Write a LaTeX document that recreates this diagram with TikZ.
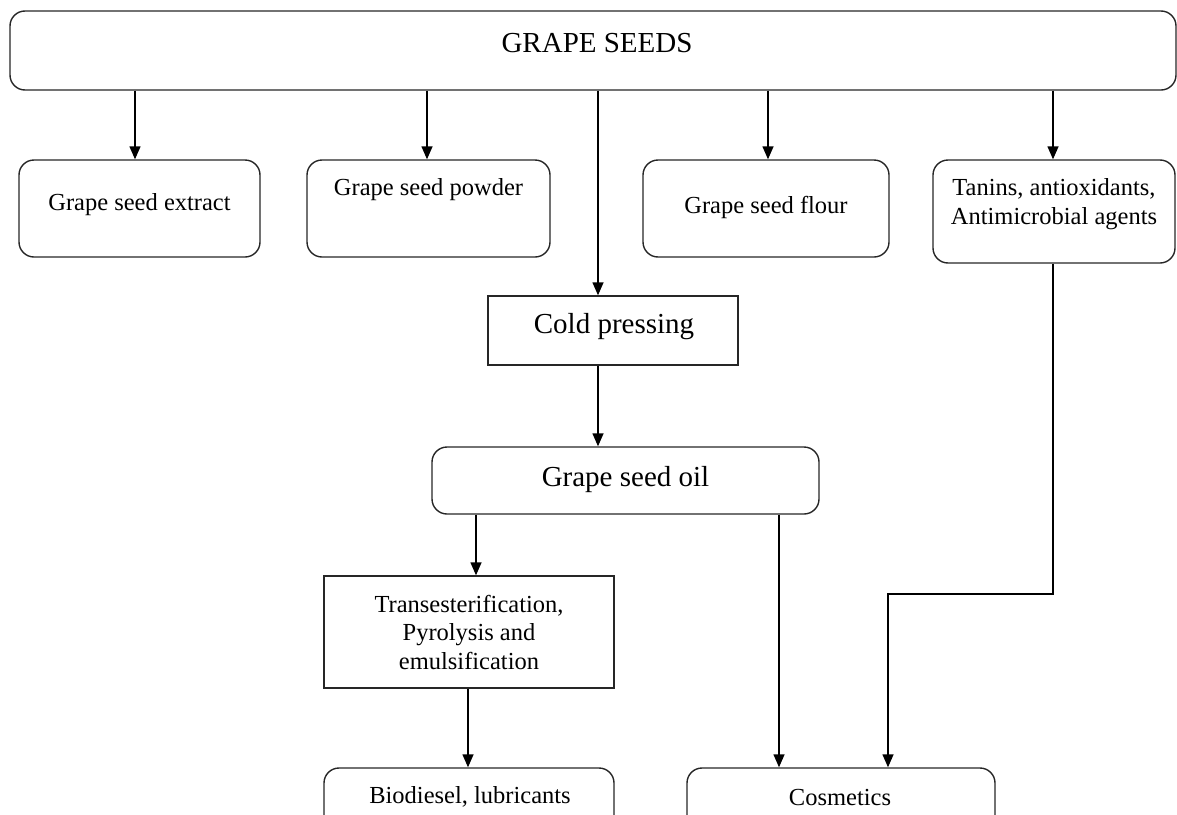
\documentclass[tikz,border=0pt]{standalone}
\usepackage{fontspec}
\setmainfont{Liberation Serif}
\usetikzlibrary{arrows.meta}
\begin{document}
\begin{tikzpicture}[x=1pt,y=-1pt,
  rbox/.style={draw=black!85, line width=1.4pt, rounded corners=15pt, inner sep=0pt, anchor=center},
  sbox/.style={draw=black!85, line width=1.4pt, inner sep=0pt, anchor=center},
  small/.style={font=\fontsize{24.5}{28.5}\selectfont, align=center, inner sep=0pt},
  big/.style={font=\fontsize{29}{33}\selectfont, align=center, inner sep=0pt},
  arr/.style={line width=1.4pt, -{Triangle[length=13pt,width=11pt]}},
  ln/.style={line width=1.4pt}]
\useasboundingbox (0,0) rectangle (1177,814);
\clip (0,0) rectangle (1177,814);
% boxes
\node[rbox, minimum width=1166pt, minimum height=79pt] (top) at (593,50.5) {};
\node[big] (topt) at (597,43) {GRAPE SEEDS};
\node[rbox, minimum width=241pt, minimum height=97pt] (extract) at (139.5,208.5) {};
\node[small] (extractt) at (139.5,205) {Grape seed extract};
\node[rbox, minimum width=243pt, minimum height=97pt] (powder) at (428.5,208.5) {};
\node[small] (powdert) at (428.5,190) {Grape seed powder};
\node[rbox, minimum width=246pt, minimum height=97pt] (flour) at (766,208.5) {};
\node[small] (flourt) at (766,207) {Grape seed flour};
\node[rbox, minimum width=242pt, minimum height=103pt] (tanins) at (1054,211.5) {};
\node[small] (taninst) at (1054,204) {Tanins, antioxidants,\\Antimicrobial agents};
\node[sbox, minimum width=250pt, minimum height=69pt] (cold) at (613,330.5) {};
\node[big] (coldt) at (614,327) {Cold pressing};
\node[rbox, minimum width=387pt, minimum height=67pt] (oil) at (625.5,480.5) {};
\node[big] (oilt) at (625.5,480) {Grape seed oil};
\node[sbox, minimum width=290pt, minimum height=112pt] (trans) at (469,632) {};
\node[small] (transt) at (469,632) {Transesterification,\\Pyrolysis and\\emulsification};
\node[rbox, minimum width=290pt, minimum height=72pt] (bio) at (469,804) {};
\node[small] (biot) at (470,797) {Biodiesel, lubricants};
\node[rbox, minimum width=308pt, minimum height=72pt] (cos) at (841,804) {};
\node[small] (cost) at (840,797) {Cosmetics};
% arrow x positions
\coordinate (x1) at (135,0);
\coordinate (x2) at (427,0);
\coordinate (x3) at (598,0);
\coordinate (x4) at (768,0);
\coordinate (x5) at (1053,0);
\coordinate (x6) at (476,0);
\coordinate (x7) at (779,0);
\coordinate (x8) at (468,0);
\coordinate (x9) at (888,0);
\coordinate (bend) at (1053,594);
\coordinate (bend2) at (888,594);
% connectors
\draw[arr] (top.south -| x1) -- (extract.north -| x1);
\draw[arr] (top.south -| x2) -- (powder.north -| x2);
\draw[arr] (top.south -| x3) -- (cold.north -| x3);
\draw[arr] (top.south -| x4) -- (flour.north -| x4);
\draw[arr] (top.south -| x5) -- (tanins.north -| x5);
\draw[arr] (cold.south -| x3) -- (oil.north -| x3);
\draw[arr] (oil.south -| x6) -- (trans.north -| x6);
\draw[arr] (oil.south -| x7) -- (cos.north -| x7);
\draw[arr] (trans.south -| x8) -- (bio.north -| x8);
\draw[arr] (tanins.south -| x5) -- (bend) -- (bend2) -- (cos.north -| x9);
\end{tikzpicture}
\end{document}
